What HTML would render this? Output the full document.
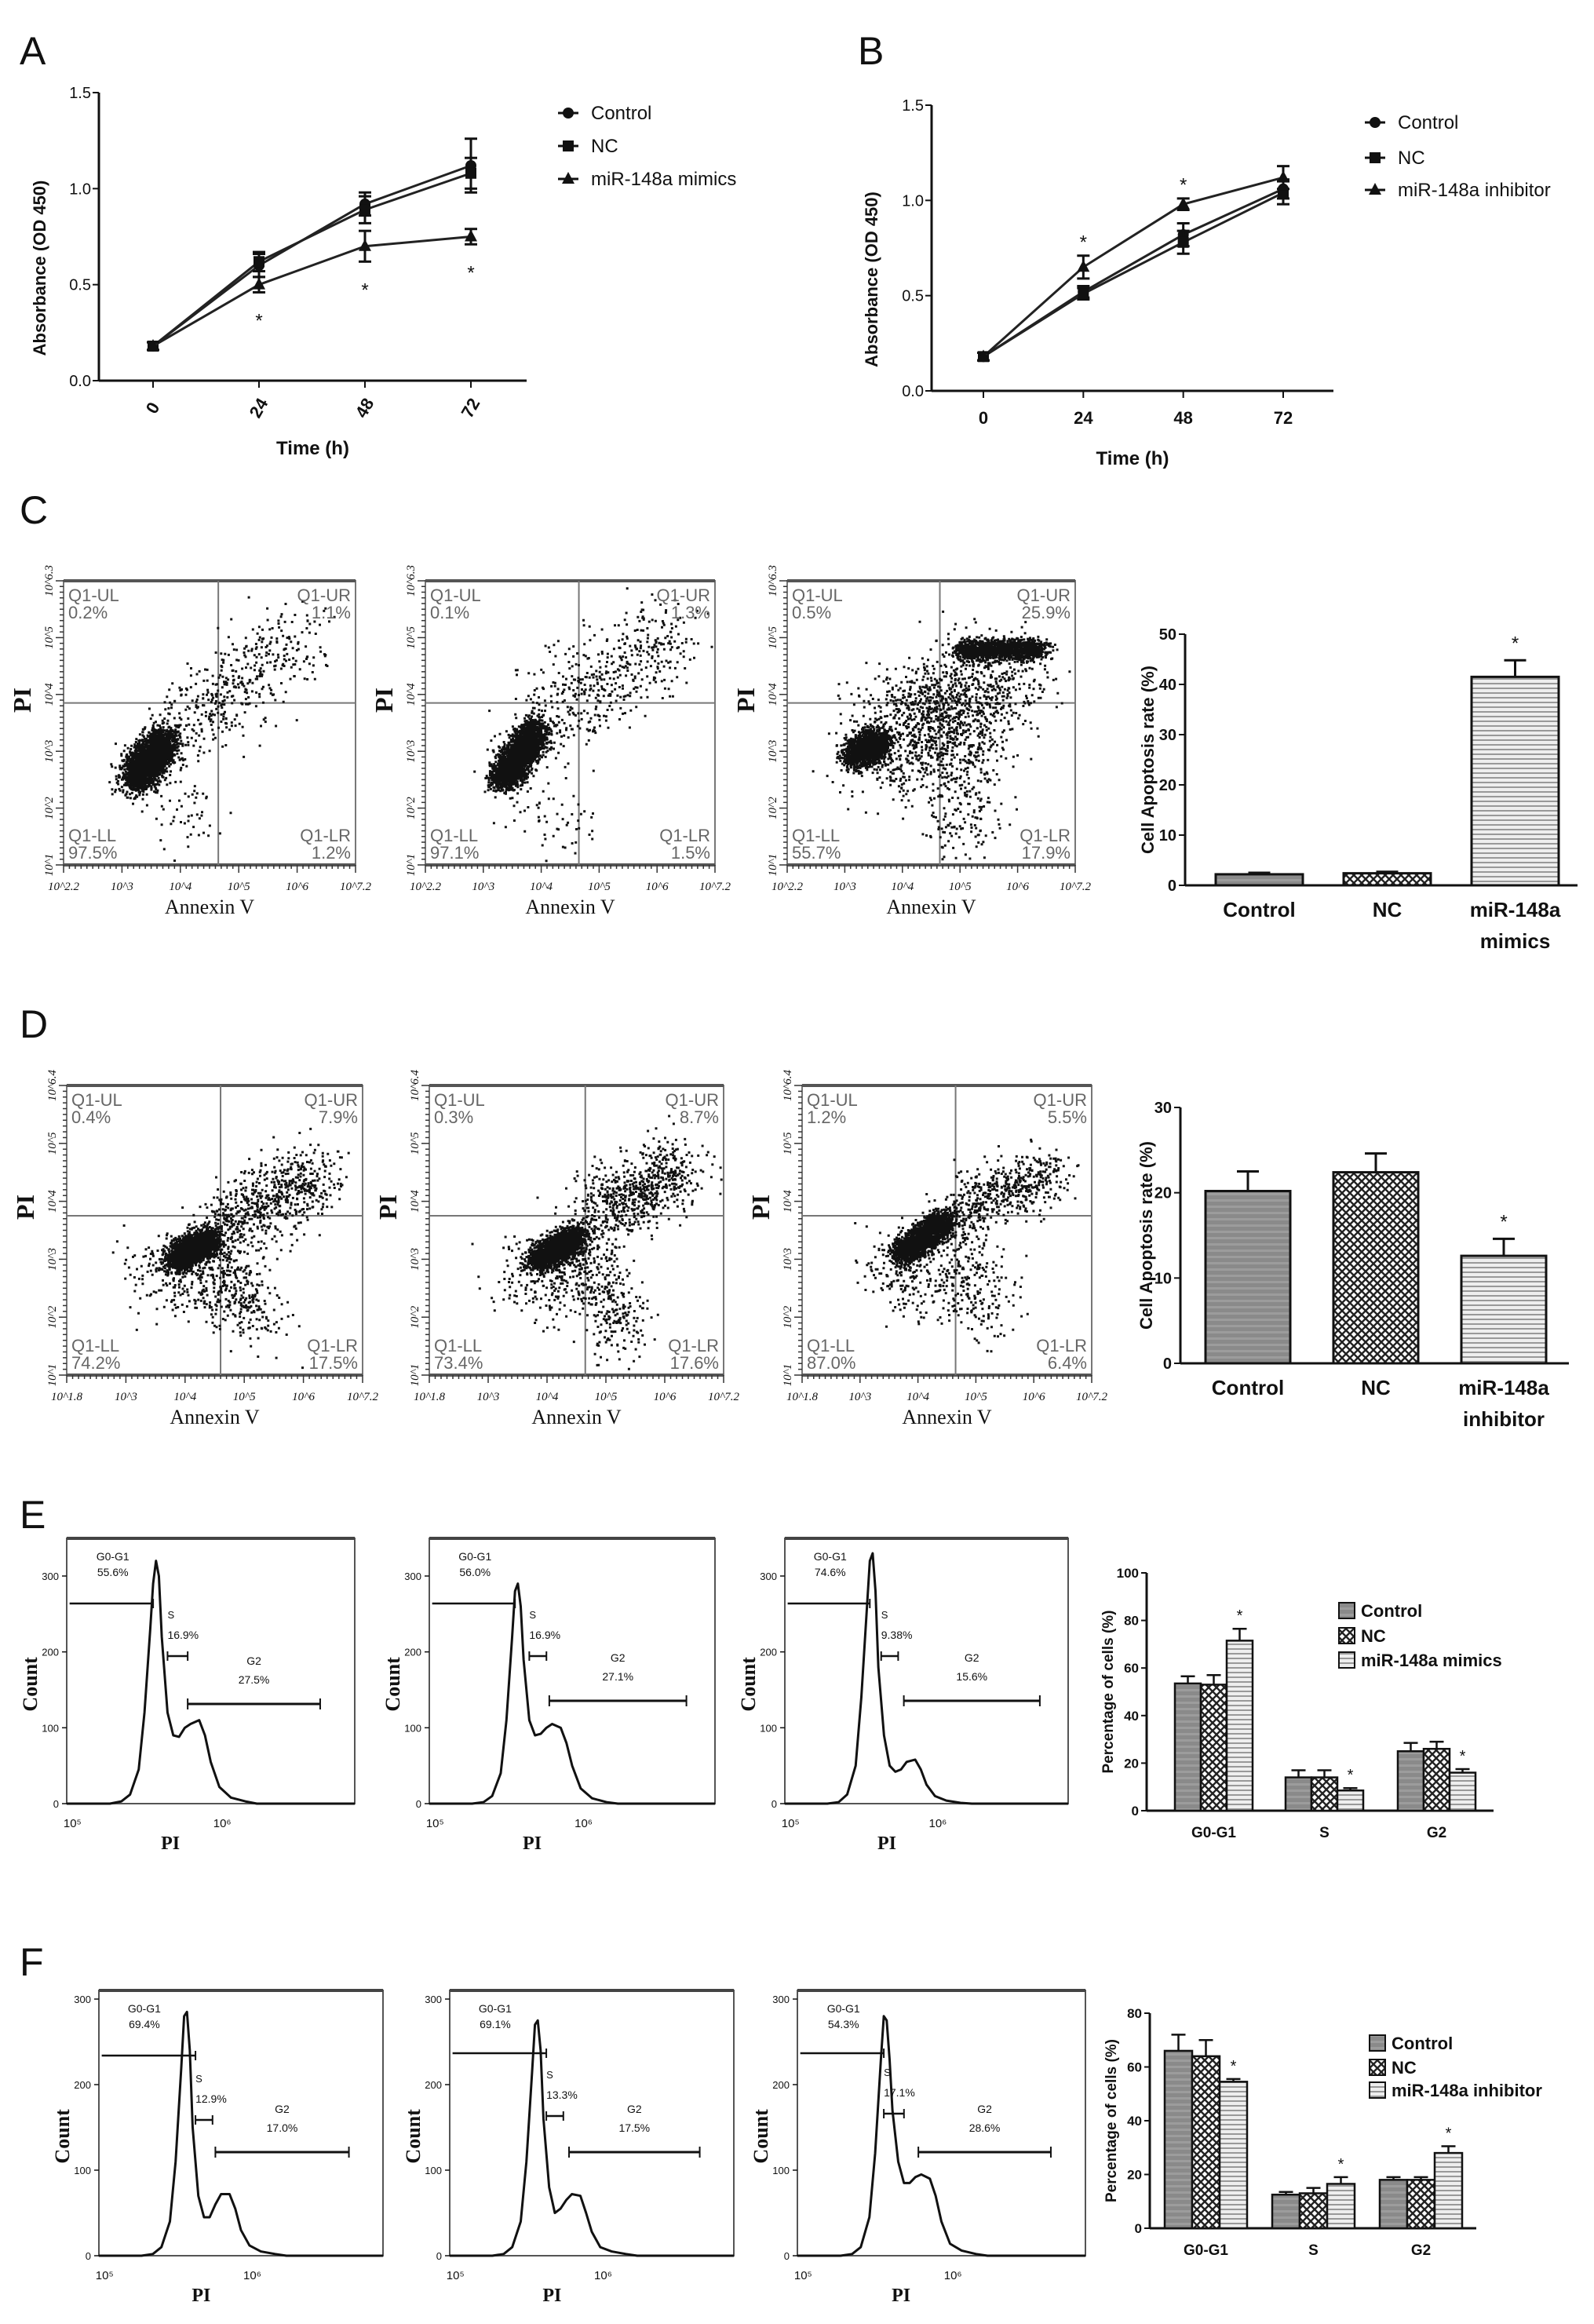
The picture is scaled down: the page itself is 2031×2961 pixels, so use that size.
<!DOCTYPE html>
<html><head><meta charset="utf-8"><title>miR-148a figure</title>
<style>
html,body{margin:0;padding:0;background:#fff;}
svg{display:block;font-family:"Liberation Sans Narrow","Liberation Sans",sans-serif;}
</style></head>
<body>
<svg id="fig" width="2031" height="2961" viewBox="0 0 2031 2961" xmlns="http://www.w3.org/2000/svg">
<defs>
<pattern id="pCtrl" width="8" height="8" patternUnits="userSpaceOnUse"><rect width="8" height="8" fill="#8a8a8a"/><rect width="8" height="3" fill="#9c9c9c"/></pattern>
<pattern id="pNC" width="10" height="10" patternUnits="userSpaceOnUse"><rect width="10" height="10" fill="#fff"/><path d="M0,0L10,10M10,0L0,10" stroke="#222" stroke-width="2.4"/></pattern>
<pattern id="pMim" width="8" height="6" patternUnits="userSpaceOnUse"><rect width="8" height="6" fill="#eee"/><rect width="8" height="2" fill="#999"/></pattern>
</defs>
</svg>
<script>
// ---------- DATA ----------
const aTimes=[0,24,48,72];
const aControl=[0.18,0.60,0.92,1.12];
const aControlErr=[0.02,0.06,0.06,0.14];
const aNC=[0.18,0.62,0.89,1.08];
const aNCErr=[0.02,0.05,0.07,0.08];
const aMimics=[0.18,0.50,0.70,0.75];
const aMimicsErr=[0.02,0.04,0.08,0.04];
const aStarIdx=[1,2,3];
const bTimes=[0,24,48,72];
const bControl=[0.18,0.52,0.82,1.06];
const bControlErr=[0.02,0.03,0.06,0.05];
const bNC=[0.18,0.51,0.78,1.04];
const bNCErr=[0.02,0.03,0.06,0.06];
const bInhibitor=[0.18,0.65,0.98,1.12];
const bInhibitorErr=[0.02,0.06,0.03,0.06];
const bStarIdx=[1,2];
const absTicks=[0.0,0.5,1.0,1.5];

const cCats=["Control","NC","miR-148a|mimics"];
const cValues=[2.2,2.4,41.5];
const cErr=[0.3,0.3,3.3];
const cTicks=[0,10,20,30,40,50];
const dCats=["Control","NC","miR-148a|inhibitor"];
const dValues=[20.2,22.4,12.6];
const dErr=[2.3,2.2,2.0];
const dTicks=[0,10,20,30];

const phaseCats=["G0-G1","S","G2"];
const eControl=[53.5,14,25];
const eNC=[53,14,26];
const eMimics=[71.5,8.5,16];
const eControlErr=[3,3,3.5];
const eNCErr=[4,3,3];
const eMimicsErr=[5,1,1.5];
const eTicks=[0,20,40,60,80,100];
const fControl=[66,12.5,18];
const fNC=[64,13,18];
const fInhibitor=[54.5,16.5,28];
const fControlErr=[6,1,1];
const fNCErr=[6,2,1];
const fInhibitorErr=[1,2.5,2.5];
const fTicks=[0,20,40,60,80];

const histX=[0.15,0.19,0.22,0.25,0.27,0.29,0.30,0.31,0.32,0.33,0.35,0.37,0.39,0.41,0.43,0.46,0.48,0.50,0.53,0.57,0.62,0.66];
const histE1=[0,3,12,45,120,230,290,320,300,220,120,90,88,100,105,110,90,55,22,8,3,0];
const histE2=[0,2,10,40,110,220,280,290,260,190,110,90,92,100,105,100,80,50,20,7,2,0];
const histE3=[0,2,12,50,140,260,320,330,280,180,90,50,42,45,55,58,45,25,10,4,1,0];
const histF1=[0,2,10,40,110,220,280,285,240,150,70,45,45,60,72,72,55,30,12,5,2,0];
const histF2=[0,2,10,40,110,215,270,275,240,160,80,50,55,65,72,70,50,28,10,5,2,0];
const histF3=[0,2,10,45,120,230,280,275,230,170,110,85,85,92,95,90,70,40,14,6,2,0];

// ---------- HELPERS ----------
const NS='http://www.w3.org/2000/svg';
const svg=document.getElementById('fig');
function mk(tag,attrs,parent){const e=document.createElementNS(NS,tag);for(const k in attrs)e.setAttribute(k,attrs[k]);(parent||svg).appendChild(e);return e;}
function grp(name){const g=mk('g',{});


return g;}
function txt(p,x,y,s,size,opts){opts=opts||{};const t=mk('text',Object.assign({x:x,y:y,'font-size':size,fill:opts.fill||'#111','text-anchor':opts.anchor||'start'},opts.attr||{}),p);t.textContent=s;


return t;}
function line(p,x1,y1,x2,y2,w,c){return mk('line',{x1:x1,y1:y1,x2:x2,y2:y2,stroke:c||'#111','stroke-width':w||3},p);}

[['A',39,60],['B',1107,60],['C',39,645],['D',39,1300],['E',39,1925],['F',39,2495]].forEach(l=>{
 txt(svg,l[1]-14,l[2]+22,l[0],50,{name:'panel-label-'+l[0].toLowerCase(),attr:{'font-family':'Liberation Sans,sans-serif'}});
});

// ---------- LINE CHARTS ----------
function marker(p,type,x,y){
 let m;
 if(type==='circle')m=mk('circle',{cx:x,cy:y,r:7,fill:'#111'},p);
 else if(type==='square')m=mk('rect',{x:x-7,y:y-7,width:14,height:14,fill:'#111'},p);
 else m=mk('path',{d:`M${x},${y-9}L${x+8},${y+6}L${x-8},${y+6}Z`,fill:'#111'},p);
 return m;
}
function lineChart(o){
 const g=grp(o.name);
 const sx=v=>o.x0+(v-o.times[0])/(o.times[o.times.length-1]-o.times[0])*(o.x1-o.x0);
 const sy=v=>o.yB-(v/1.5)*(o.yB-o.yT);
 line(g,o.ax,o.yT,o.ax,o.yB,3);line(g,o.ax,o.yB,o.axEnd,o.yB,3);
 o.ticks.forEach(t=>{line(g,o.ax-8,sy(t),o.ax,sy(t),2);txt(g,o.ax-10,sy(t)+7,t.toFixed(1),20,{anchor:'end',name:'y-tick'});});
 o.times.forEach(t=>{line(g,sx(t),o.yB,sx(t),o.yB+9,2);
  if(o.rot){txt(g,sx(t),o.yB+42,String(t),22,{anchor:'middle',name:'x-tick',attr:{transform:`rotate(-60 ${sx(t)} ${o.yB+35})`,'font-weight':'bold'}});}
  else txt(g,sx(t),o.yB+42,String(t),22,{anchor:'middle',name:'x-tick',attr:{'font-weight':'bold'}});});
 txt(g,(o.ax+o.axEnd)/2,o.yB+94,'Time (h)',24,{anchor:'middle',name:'x-axis-title',attr:{'font-weight':'bold'}});
 const ty=(o.yT+o.yB)/2+40;
 txt(g,o.titleX,ty,'Absorbance (OD 450)',22,{anchor:'middle',name:'y-axis-title',attr:{transform:`rotate(-90 ${o.titleX} ${ty})`,'font-weight':'bold','font-family':'Liberation Sans,sans-serif'}});
 o.series.forEach((s,si)=>{
  const sg=mk('g',{},g);
  
  
  const pts=s.vals.map((v,i)=>sx(o.times[i])+','+sy(v)).join(' ');
  mk('polyline',{points:pts,fill:'none',stroke:'#222','stroke-width':3},sg);
  s.vals.forEach((v,i)=>{const x=sx(o.times[i]);
   line(sg,x,sy(v-s.err[i]),x,sy(v+s.err[i]),3);
   line(sg,x-8,sy(v+s.err[i]),x+8,sy(v+s.err[i]),3);line(sg,x-8,sy(v-s.err[i]),x+8,sy(v-s.err[i]),3);
   const m=marker(sg,s.mk,x,sy(v));
   
   
  });
  const ly=o.legY[si];
  line(g,o.legX-12,ly,o.legX+14,ly,3);marker(g,s.mk,o.legX+1,ly);
  txt(g,o.legX+30,ly+8,s.label,24,{name:'legend-entry'});
 });
 o.stars.forEach(st=>{txt(g,sx(o.times[st.i]),sy(st.v)+10,'*',24,{anchor:'middle',name:'significance-star'});});
}
lineChart({name:'chart-a-proliferation',times:aTimes,x0:195,x1:600,ax:126,axEnd:671,yT:118,yB:485,ticks:absTicks,rot:true,titleX:58,legX:723,legY:[144,186,228],
 series:[{key:'control',vals:aControl,err:aControlErr,mk:'circle',label:'Control'},{key:'nc',vals:aNC,err:aNCErr,mk:'square',label:'NC'},{key:'mimics',vals:aMimics,err:aMimicsErr,mk:'tri',label:'miR-148a mimics'}],
 stars:aStarIdx.map(i=>({i:i,v:aMimics[i]-aMimicsErr[i]-0.14}))});
lineChart({name:'chart-b-proliferation',times:bTimes,x0:1253,x1:1635,ax:1187,axEnd:1699,yT:134,yB:498,ticks:absTicks,rot:false,titleX:1118,legX:1751,legY:[156,201,242],
 series:[{key:'control',vals:bControl,err:bControlErr,mk:'circle',label:'Control'},{key:'nc',vals:bNC,err:bNCErr,mk:'square',label:'NC'},{key:'inhibitor',vals:bInhibitor,err:bInhibitorErr,mk:'tri',label:'miR-148a inhibitor'}],
 stars:bStarIdx.map(i=>({i:i,v:bInhibitor[i]+bInhibitorErr[i]+0.08}))});

// ---------- FLOW SCATTER ----------
let seed=12345;
function rnd(){seed=(seed*1103515245+12345)%2147483648;return seed/2147483648;}
function gauss(){let u=rnd()||1e-6,v=rnd();return Math.sqrt(-2*Math.log(u))*Math.cos(2*Math.PI*v);}
function scatterPlot(o){
 const g=grp(o.name);
 const W=o.x1-o.x0,H=o.y1-o.y0;
 mk('rect',{x:o.x0,y:o.y0,width:W,height:H,fill:'none',stroke:'#777','stroke-width':2},g);
 line(g,o.x0,o.y0,o.x1,o.y0,4,'#555');line(g,o.x0,o.y1,o.x1,o.y1,4,'#555');
 for(let i=0;i<=50;i++){const x=o.x0+i*W/50;line(g,x,o.y1,x,o.y1+(i%10==0?10:5),1.5,'#333');}
 for(let i=0;i<=50;i++){const y=o.y0+i*H/50;line(g,o.x0-(i%10==0?10:5),y,o.x0,y,1.5,'#333');}
 const qx=o.x0+o.qx*W,qy=o.y0+o.qy*H;
 line(g,qx,o.y0,qx,o.y1,2,'#777');line(g,o.x0,qy,o.x1,qy,2,'#777');
 let d='';
 o.clouds.forEach(c=>{for(let i=0;i<c.n;i++){const t=rnd();const fx=c.a[0]+(c.b[0]-c.a[0])*t+gauss()*c.s;const fy=c.a[1]+(c.b[1]-c.a[1])*t+gauss()*c.s*(c.sy||1);
  if(fx<0.01||fx>0.99||fy<0.01||fy>0.99)continue;d+=`M${(o.x0+fx*W).toFixed(1)},${(o.y0+fy*H).toFixed(1)}h3v3h-3z`;}});
 const p=mk('path',{d:d,fill:'#111'},g);
 
 
 const q=o.q;
 txt(g,o.x0+6,o.y0+26,'Q1-UL',22,{fill:'#666',name:'quadrant-ul'});txt(g,o.x0+6,o.y0+48,q[0],22,{fill:'#666',name:'quadrant-ul-value'});
 txt(g,o.x1-6,o.y0+26,'Q1-UR',22,{fill:'#666',anchor:'end',name:'quadrant-ur'});txt(g,o.x1-6,o.y0+48,q[1],22,{fill:'#666',anchor:'end',name:'quadrant-ur-value'});
 txt(g,o.x0+6,o.y1-30,'Q1-LL',22,{fill:'#666',name:'quadrant-ll'});txt(g,o.x0+6,o.y1-8,q[2],22,{fill:'#666',name:'quadrant-ll-value'});
 txt(g,o.x1-6,o.y1-30,'Q1-LR',22,{fill:'#666',anchor:'end',name:'quadrant-lr'});txt(g,o.x1-6,o.y1-8,q[3],22,{fill:'#666',anchor:'end',name:'quadrant-lr-value'});
 o.xt.forEach((s,i)=>{const x=o.x0+i*W/(o.xt.length-1);txt(g,x,o.y1+32,s,15,{anchor:'middle',name:'x-tick',attr:{'font-family':'Liberation Serif,serif','font-style':'italic'}});});
 o.yt.forEach((s,i)=>{const y=o.y1-i*H/(o.yt.length-1);txt(g,o.x0-14,y,s,15,{anchor:'middle',name:'y-tick',attr:{transform:`rotate(-90 ${o.x0-14} ${y})`,'font-family':'Liberation Serif,serif','font-style':'italic'}});});
 txt(g,(o.x0+o.x1)/2,o.y1+62,'Annexin V',26,{anchor:'middle',name:'x-axis-title',attr:{'font-family':'Liberation Serif,serif'}});
 const px=o.x0-42,py=o.y0+H*0.42;
 txt(g,px,py,'PI',32,{anchor:'middle',name:'y-axis-title',attr:{transform:`rotate(-90 ${px} ${py})`,'font-family':'Liberation Serif,serif','font-weight':'bold'}});
}
const xtC=['10^2.2','10^3','10^4','10^5','10^6','10^7.2'];
const ytC=['10^1','10^2','10^3','10^4','10^5','10^6.3'];
const xtD=['10^1.8','10^3','10^4','10^5','10^6','10^7.2'];
const ytD=['10^1','10^2','10^3','10^4','10^5','10^6.4'];
scatterPlot({name:'flow-c-control',x0:81,x1:453,y0:740,y1:1102,qx:0.53,qy:0.43,q:['0.2%','1.1%','97.5%','1.2%'],xt:xtC,yt:ytC,
 clouds:[{a:[0.24,0.7],b:[0.34,0.56],s:0.03,n:2600},{a:[0.35,0.55],b:[0.82,0.18],s:0.07,n:450},{a:[0.3,0.7],b:[0.5,0.9],s:0.06,n:60}]});
scatterPlot({name:'flow-c-nc',x0:542,x1:911,y0:740,y1:1102,qx:0.53,qy:0.43,q:['0.1%','1.3%','97.1%','1.5%'],xt:xtC,yt:ytC,
 clouds:[{a:[0.26,0.7],b:[0.38,0.52],s:0.027,n:2600},{a:[0.38,0.5],b:[0.85,0.18],s:0.08,n:500},{a:[0.3,0.75],b:[0.55,0.9],s:0.06,n:60}]});
scatterPlot({name:'flow-c-mimics',x0:1003,x1:1370,y0:740,y1:1102,qx:0.53,qy:0.43,q:['0.5%','25.9%','55.7%','17.9%'],xt:xtC,yt:ytC,
 clouds:[{a:[0.23,0.61],b:[0.32,0.56],s:0.028,n:1400},{a:[0.6,0.24],b:[0.88,0.24],s:0.022,sy:0.8,n:1400},{a:[0.32,0.6],b:[0.75,0.32],s:0.1,n:1300},{a:[0.58,0.5],b:[0.62,0.92],s:0.07,n:300}]});
scatterPlot({name:'flow-d-control',x0:85,x1:462,y0:1383,y1:1752,qx:0.52,qy:0.45,q:['0.4%','7.9%','74.2%','17.5%'],xt:xtD,yt:ytD,
 clouds:[{a:[0.36,0.6],b:[0.48,0.53],s:0.024,n:2000},{a:[0.5,0.5],b:[0.85,0.3],s:0.06,n:700},{a:[0.45,0.55],b:[0.68,0.85],s:0.06,n:350},{a:[0.3,0.62],b:[0.45,0.7],s:0.07,n:200}]});
scatterPlot({name:'flow-d-nc',x0:547,x1:922,y0:1383,y1:1752,qx:0.53,qy:0.45,q:['0.3%','8.7%','73.4%','17.6%'],xt:xtD,yt:ytD,
 clouds:[{a:[0.36,0.6],b:[0.5,0.52],s:0.024,n:2000},{a:[0.55,0.45],b:[0.85,0.28],s:0.06,n:700},{a:[0.5,0.55],b:[0.68,0.88],s:0.06,n:350},{a:[0.3,0.62],b:[0.45,0.72],s:0.07,n:200}]});
scatterPlot({name:'flow-d-inhibitor',x0:1022,x1:1391,y0:1383,y1:1752,qx:0.53,qy:0.45,q:['1.2%','5.5%','87.0%','6.4%'],xt:xtD,yt:ytD,
 clouds:[{a:[0.34,0.58],b:[0.5,0.46],s:0.024,n:2000},{a:[0.55,0.42],b:[0.85,0.3],s:0.05,n:500},{a:[0.5,0.5],b:[0.65,0.8],s:0.06,n:250},{a:[0.28,0.6],b:[0.45,0.7],s:0.07,n:200}]});

// ---------- HISTOGRAMS ----------
function histPlot(o){
 const g=grp(o.name);
 const W=o.x1-o.x0,H=o.y1-o.y0;
 mk('rect',{x:o.x0,y:o.y0,width:W,height:H,fill:'none',stroke:'#555','stroke-width':2},g);
 line(g,o.x0,o.y0,o.x1,o.y0,4,'#444');
 const sy=c=>o.y1-c*(o.y1-o.y300)/300;
 const sx=f=>o.x0+f*W;
 [0,100,200,300].forEach(t=>{line(g,o.x0-6,sy(t),o.x0,sy(t),1.5);txt(g,o.x0-10,sy(t)+5,String(t),13,{anchor:'end',name:'y-tick'});});
 txt(g,sx(0.02),o.y1+30,'10⁵',15,{anchor:'middle',name:'x-tick'});txt(g,sx(0.54),o.y1+30,'10⁶',15,{anchor:'middle',name:'x-tick'});
 txt(g,sx(0.36),o.y1+58,'PI',24,{anchor:'middle',name:'x-axis-title',attr:{'font-family':'Liberation Serif,serif','font-weight':'bold'}});
 const cx=o.x0-38,cy=o.y0+H*0.55;
 txt(g,cx,cy,'Count',26,{anchor:'middle',name:'y-axis-title',attr:{transform:`rotate(-90 ${cx} ${cy})`,'font-family':'Liberation Serif,serif','font-weight':'bold'}});
 let pts=`${sx(0)},${sy(0)} `+histX.map((f,i)=>`${sx(f)},${sy(o.counts[i])}`).join(' ')+` ${sx(1)},${sy(0)}`;
 const pl=mk('polyline',{points:pts,fill:'none',stroke:'#111','stroke-width':3,'stroke-linejoin':'round'},g);
 
 
 const gt=o.gates;
 line(g,sx(0.01),gt.g1y,sx(gt.g1e),gt.g1y,2.5);line(g,sx(gt.g1e),gt.g1y-6,sx(gt.g1e),gt.g1y+6,2);
 txt(g,sx(0.16),o.y0+28,'G0-G1',14,{anchor:'middle',name:'gate-g0g1'});txt(g,sx(0.16),o.y0+48,o.p[0],14,{anchor:'middle',name:'gate-g0g1-value'});
 line(g,sx(gt.s0),gt.sy,sx(gt.s1),gt.sy,2.5);line(g,sx(gt.s0),gt.sy-6,sx(gt.s0),gt.sy+6,2);line(g,sx(gt.s1),gt.sy-6,sx(gt.s1),gt.sy+6,2);
 txt(g,sx(gt.s0),gt.sy-48,'S',13,{name:'gate-s'});txt(g,sx(gt.s0),gt.sy-22,o.p[1],14,{name:'gate-s-value'});
 line(g,sx(gt.g20),gt.g2y,sx(gt.g21),gt.g2y,3);line(g,sx(gt.g20),gt.g2y-7,sx(gt.g20),gt.g2y+7,2);line(g,sx(gt.g21),gt.g2y-7,sx(gt.g21),gt.g2y+7,2);
 const mx=sx((gt.g20+gt.g21)/2);
 txt(g,mx,gt.g2y-50,'G2',14,{anchor:'middle',name:'gate-g2'});txt(g,mx,gt.g2y-26,o.p[2],14,{anchor:'middle',name:'gate-g2-value'});
}
histPlot({name:'cellcycle-e-control',x0:85,x1:452,y0:1960,y1:2298,y300:2008,counts:histE1,p:['55.6%','16.9%','27.5%'],gates:{g1y:2043,g1e:0.3,s0:0.35,s1:0.42,sy:2110,g20:0.42,g21:0.88,g2y:2171}});
histPlot({name:'cellcycle-e-nc',x0:547,x1:911,y0:1960,y1:2298,y300:2008,counts:histE2,p:['56.0%','16.9%','27.1%'],gates:{g1y:2043,g1e:0.3,s0:0.35,s1:0.41,sy:2110,g20:0.42,g21:0.9,g2y:2167}});
histPlot({name:'cellcycle-e-mimics',x0:1000,x1:1361,y0:1960,y1:2298,y300:2008,counts:histE3,p:['74.6%','9.38%','15.6%'],gates:{g1y:2043,g1e:0.3,s0:0.34,s1:0.4,sy:2110,g20:0.42,g21:0.9,g2y:2167}});
histPlot({name:'cellcycle-f-control',x0:126,x1:488,y0:2536,y1:2874,y300:2547,counts:histF1,p:['69.4%','12.9%','17.0%'],gates:{g1y:2619,g1e:0.34,s0:0.34,s1:0.4,sy:2701,g20:0.41,g21:0.88,g2y:2742}});
histPlot({name:'cellcycle-f-nc',x0:573,x1:935,y0:2536,y1:2874,y300:2547,counts:histF2,p:['69.1%','13.3%','17.5%'],gates:{g1y:2616,g1e:0.34,s0:0.34,s1:0.4,sy:2696,g20:0.42,g21:0.88,g2y:2742}});
histPlot({name:'cellcycle-f-inhibitor',x0:1016,x1:1383,y0:2536,y1:2874,y300:2547,counts:histF3,p:['54.3%','17.1%','28.6%'],gates:{g1y:2616,g1e:0.3,s0:0.3,s1:0.37,sy:2693,g20:0.42,g21:0.88,g2y:2742}});

// ---------- BAR CHARTS ----------
const fills=['url(#pCtrl)','url(#pNC)','url(#pMim)'];
function barChart(o){
 const g=grp(o.name);
 const top=o.ticks[o.ticks.length-1];
 const sy=v=>o.y0-v/top*(o.y0-o.yTop);
 line(g,o.ax,o.yTop,o.ax,o.y0,3);line(g,o.ax,o.y0,o.axEnd,o.y0,3);
 o.ticks.forEach(t=>{line(g,o.ax-8,sy(t),o.ax,sy(t),2);txt(g,o.ax-11,sy(t)+7,String(t),20,{anchor:'end',name:'y-tick',attr:{'font-weight':'bold'}});});
 const ty=(o.yTop+o.y0)/2;
 txt(g,o.titleX,ty,o.title,o.titleSize||22,{anchor:'middle',name:'y-axis-title',attr:{transform:`rotate(-90 ${o.titleX} ${ty})`,'font-weight':'bold','font-family':'Liberation Sans,sans-serif'}});
 o.cats.forEach((c,i)=>{
  const x=o.bx[i],w=o.bw,v=o.vals[i],e=o.err[i];
  const r=mk('rect',{x:x,y:sy(v),width:w,height:o.y0-sy(v),fill:fills[i],stroke:'#111','stroke-width':3},g);
  
  
  line(g,x+w/2,sy(v),x+w/2,sy(v+e),3);line(g,x+w/2-14,sy(v+e),x+w/2+14,sy(v+e),3);
  const parts=c.split('|');
  parts.forEach((s,k)=>txt(g,x+w/2,o.y0+40+k*40,s,26,{anchor:'middle',name:'x-category-label',attr:{'font-weight':'bold'}}));
  if(o.star[i])txt(g,x+w/2,sy(v+e)-14,'*',24,{anchor:'middle',name:'significance-star'});
 });
}
barChart({name:'chart-c-apoptosis',cats:cCats,vals:cValues,err:cErr,ticks:cTicks,ax:1510,axEnd:2010,y0:1128,yTop:808,bx:[1549,1712,1875],bw:111,titleX:1470,title:'Cell Apoptosis rate (%)',star:[0,0,1]});
barChart({name:'chart-d-apoptosis',cats:dCats,vals:dValues,err:dErr,ticks:dTicks,ax:1504,axEnd:1999,y0:1737,yTop:1411,bx:[1536,1699,1862],bw:108,titleX:1468,title:'Cell Apoptosis rate (%)',star:[0,0,1]});

function groupedBar(o){
 const g=grp(o.name);
 const top=o.ticks[o.ticks.length-1];
 const sy=v=>o.y0-v/top*(o.y0-o.yTop);
 line(g,o.ax,o.yTop,o.ax,o.y0,3);line(g,o.ax,o.y0,o.axEnd,o.y0,3);
 o.ticks.forEach(t=>{line(g,o.ax-7,sy(t),o.ax,sy(t),2);txt(g,o.ax-10,sy(t)+6,String(t),17,{anchor:'end',name:'y-tick',attr:{'font-weight':'bold'}});});
 const ty=(o.yTop+o.y0)/2;
 txt(g,o.titleX,ty,'Percentage of cells (%)',19,{anchor:'middle',name:'y-axis-title',attr:{transform:`rotate(-90 ${o.titleX} ${ty})`,'font-weight':'bold','font-family':'Liberation Sans,sans-serif'}});
 phaseCats.forEach((c,ci)=>{
  const gx=o.gx[ci];
  o.series.forEach((s,si)=>{
   const x=gx+si*o.bw,v=s.vals[ci],e=s.err[ci];
   const r=mk('rect',{x:x,y:sy(v),width:o.bw,height:o.y0-sy(v),fill:fills[si],stroke:'#111','stroke-width':2.5},g);
   
   
   line(g,x+o.bw/2,sy(v),x+o.bw/2,sy(v+e),2.5);line(g,x+o.bw/2-9,sy(v+e),x+o.bw/2+9,sy(v+e),2.5);
   if(si===2)txt(g,x+o.bw/2,sy(v+e)-10,'*',20,{anchor:'middle',name:'significance-star'});
  });
  txt(g,gx+1.5*o.bw,o.y0+34,c,19,{anchor:'middle',name:'x-category-label',attr:{'font-weight':'bold'}});
 });
 o.series.forEach((s,si)=>{const y=o.legY[si];
  const r=mk('rect',{x:o.legX,y:y-10,width:20,height:20,fill:fills[si],stroke:'#111','stroke-width':2},g);
  
  
  txt(g,o.legX+28,y+8,s.label,22,{name:'legend-entry',attr:{'font-weight':'bold'}});});
}
groupedBar({name:'chart-e-cellcycle',ax:1461,axEnd:1903,y0:2307,yTop:2004,ticks:eTicks,titleX:1418,gx:[1497,1638,1781],bw:33,legX:1706,legY:[2052,2084,2115],
 series:[{key:'control',vals:eControl,err:eControlErr,label:'Control'},{key:'nc',vals:eNC,err:eNCErr,label:'NC'},{key:'mimics',vals:eMimics,err:eMimicsErr,label:'miR-148a mimics'}]});
groupedBar({name:'chart-f-cellcycle',ax:1465,axEnd:1881,y0:2839,yTop:2565,ticks:fTicks,titleX:1422,gx:[1484,1621,1758],bw:35,legX:1745,legY:[2603,2634,2663],
 series:[{key:'control',vals:fControl,err:fControlErr,label:'Control'},{key:'nc',vals:fNC,err:fNCErr,label:'NC'},{key:'inhibitor',vals:fInhibitor,err:fInhibitorErr,label:'miR-148a inhibitor'}]});
</script>
</body></html>
